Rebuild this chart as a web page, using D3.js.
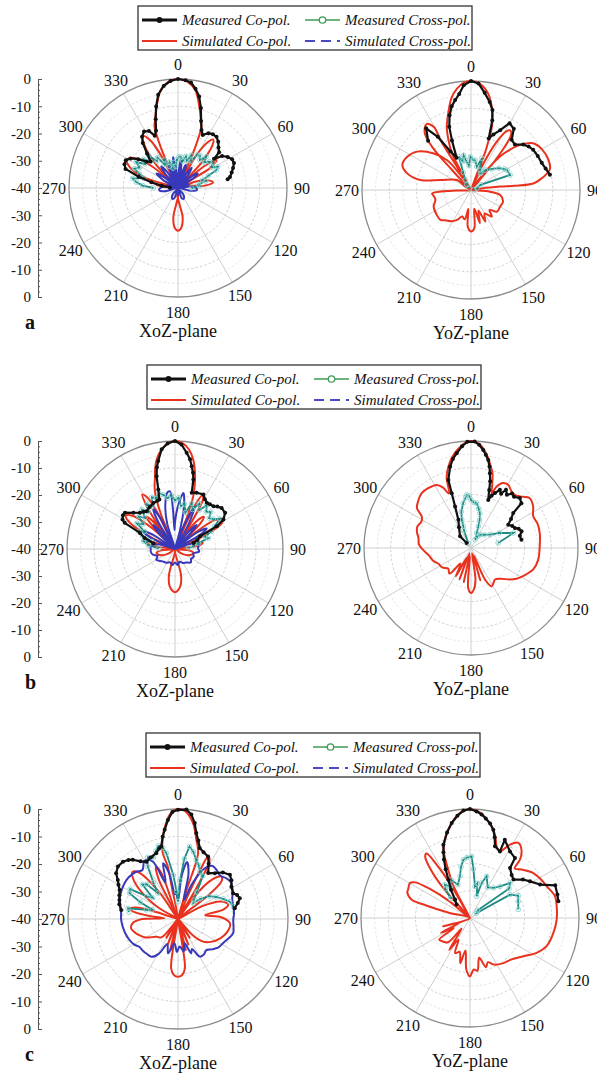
<!DOCTYPE html>
<html>
<head>
<meta charset="utf-8">
<script src="https://cdn.jsdelivr.net/npm/d3@7"></script>
<style>
  html, body { margin: 0; padding: 0; background: #fff; }
  svg { display: block; }
  text { font-family: "Liberation Serif", "Times New Roman", serif; fill: #111; }
</style>
</head>
<body>
<svg id="chart" width="597" height="1077"></svg>
<script>
// ---------- tick labels ----------
const angleTicks = [0, 30, 60, 90, 120, 150, 180, 210, 240, 270, 300, 330];
const ringLevels = [-35, -30, -25, -20, -15, -10, -5];
const axisMajor = [0, 10, 20, 30, 40, 50, 60, 70, 80];   // position along the two-sided radial axis
const axisLabels = ["0", "-10", "-20", "-30", "-40", "-30", "-20", "-10", "0"];
const seriesNames = ["Measured Co-pol.", "Measured Cross-pol.", "Simulated Co-pol.", "Simulated Cross-pol."];

// ---------- (a) XoZ-plane : [angle in degrees, level in dB] ----------
const aXoZ_simCo = [[0,0],[5,-0.8],[10,-3.5],[15,-9.5],[19,-14],[21,-16],[23,-24],[25,-40],
  [29,-27],[33,-20],[36,-18],[39,-20],[43,-28],[46,-40],
  [50,-28],[54,-22.5],[58,-26],[62,-40],
  [70,-33],[77,-28],[81,-27],[85,-30],[89,-40],
  [171,-29],[175,-25.5],[180,-24.3],[185,-25.5],[189,-29],[192,-40],
  [274,-35],[278,-32],[282,-40],
  [287,-28],[293,-21],[299,-18.6],[305,-21],[310,-28],[313,-40],
  [317,-28],[322,-20],[326,-17],[330,-20],[333,-28],[335,-40],
  [337,-24],[339,-16],[341,-14],[345,-9.5],[350,-3.5],[355,-0.8]];
const aXoZ_simX = [[3,-33],[6,-29.5],[9,-33],[12,-40],[16,-33],[19,-31],[22,-34],[26,-40],
  [30,-34],[34,-31],[38,-34],[42,-40],[48,-34],[54,-31],[58,-34],[62,-40],[70,-36],[76,-40],
  [84,-35],[90,-33.3],[96,-33],[102,-35],[108,-40],[140,-37],[152,-35.5],[160,-36],[168,-40],
  [180,-37.5],[192,-40],[200,-36],[208,-35.5],[220,-37],[250,-40],[256,-35],[264,-33],[270,-33.5],
  [276,-35],[282,-40],[286,-36],[290,-40],[298,-34],[304,-30.5],[308,-34],[312,-40],[318,-33],
  [322,-30],[326,-33],[330,-40],[335,-34],[338,-31],[342,-34],[345,-40],[348,-33],[351,-28.5],
  [354,-33],[357,-40]];
const aXoZ_measCo = [[-86,-37],[-82,-34],[-78,-30],[-74,-25],[-70,-19.5],[-66,-18.5],[-62,-18.3],
  [-58,-19.5],[-54,-22],[-50,-25],[-46,-26],[-42,-23],[-38,-19],[-35,-17],[-31,-15.8],[-27,-16.5],
  [-24,-19],[-21,-17.5],[-18,-13.5],[-15,-9],[-12,-5],[-8,-2.2],[-4,-0.6],[0,0],[4,-0.4],[7,-1],
  [10,-3],[13,-5.5],[16,-9.5],[19,-14],[22,-17],[25,-18.5],[29,-17],[33,-16.5],[37,-16.5],
  [41,-17.5],[45,-19],[49,-20],[51,-23],[54,-20],[58,-18.5],[62,-17.5],[66,-17.5],[70,-18.5],
  [74,-19.5],[78,-20.5],[80,-21.5]];
const aXoZ_measX = [[-90,-31],[-86,-27],[-82,-24.5],[-78,-23],[-74,-27],[-70,-25],[-66,-22.5],
  [-62,-24],[-58,-22],[-54,-25],[-50,-23.5],[-46,-26],[-42,-24],[-38,-27.5],[-34,-26.5],[-30,-30],
  [-26,-28.5],[-22,-31.5],[-18,-30],[-14,-32.5],[-10,-30.5],[-6,-32],[-2,-29.5],[2,-28.5],[6,-28.6],
  [10,-30],[14,-28],[18,-29.5],[22,-27],[26,-29],[30,-26],[34,-25.6],[38,-27],[42,-24.5],[46,-26.5],
  [50,-25],[54,-24],[58,-25.5],[62,-23.4],[65,-24.5],[68,-28],[72,-30.5],[76,-29.5],[80,-32.5],
  [85,-32],[90,-35]];

// ---------- (a) YoZ-plane ----------
const aYoZ_simCo = [[0,0],[5,-1],[10,-4],[13.6,-8],[16,-11.5],[18.3,-15.6],[19.5,-20.6],[20.5,-25],[21.5,-40],
  [25,-30],[28,-20],[31,-15],[33.5,-13.8],[36,-15],[38,-20],[40,-30],[41,-40],
  [38,-31],[42,-22],[48,-15],[53,-11.5],[60,-10],[69,-9.5],[75,-10],[78,-11.6],[81,-14],[84,-17],
  [84.5,-24],[83.5,-29],[81.4,-36],[88,-40],
  [95,-33],[100,-29],[110,-27.5],[120,-27.7],[130,-27.6],[137,-30],[142,-27.6],[150,-30],
  [155.6,-27.3],[160,-32],[165,-27.4],[170,-33],[175,-26],[180,-24.8],[185,-26.5],[188,-33],
  [192,-29],[198.6,-29.7],[205,-27.9],[212,-26.5],[220,-25.5],[225.6,-24.3],[235,-24.5],[246,-25],
  [255,-26.5],[262,-26],[265,-25.7],[268,-33],[280,-40],
  [300,-37.6],[305.5,-33.7],[288,-28.2],[281.2,-21.1],[284.6,-15.8],[290,-13.2],[297.5,-13.6],
  [305.4,-15.7],[314.5,-20.9],[321.3,-26],[325,-33.3],[322,-40],
  [316.5,-30],[318,-18.7],[321,-13],[326,-10.8],[329.5,-13.2],[328.5,-18.5],[329,-30],[331,-40],
  [332.6,-24.9],[336,-19.5],[339,-15.2],[344.4,-9.6],[348,-5.5],[352,-2.5],[356,-0.6]];
const aYoZ_measCo = [[-41,-16],[-36,-12],[-32,-17],[-28,-24],[-24,-27],[-21,-20.5],[-19,-15.5],
  [-16,-11.5],[-13,-8.5],[-10,-6.5],[-7,-4.5],[-4,-1.5],[0,0],[4,-0.8],[8,-4],[12,-7],[15,-9.6],
  [17,-13.3],[19,-20],[22,-18],[26,-15.6],[30,-11.7],[35,-12.6],[39,-16.3],[44,-16.8],[49,-14.6],
  [53,-13.5],[57,-12.8],[63,-12.5],[69,-12.2],[74,-11.5],[79,-10.5]];
const aYoZ_measX = [[-45,-39],[-38,-37.5],[-30,-35.8],[-24,-33],[-20,-27],[-16,-29],[-12,-27],
  [-10,-28.8],[-5,-31],[-1,-27.8],[4,-29],[8,-28.9],[14,-31.2],[19,-27.7],[25,-32],[30,-33],
  [36,-31],[45,-29],[52,-27],[58,-25.5],[61,-24.9],[69,-24.6],[62,-36],[74,-37.7],[85,-39]];

// ---------- (b) XoZ-plane ----------
const bXoZ_simCo = [[0,0],[4,-0.7],[8,-2.8],[12,-6.8],[15.4,-12],[17,-15],[19,-19],[20.5,-26],[22,-40],
  [23.5,-30],[25,-21],[27,-17.5],[29.5,-19],[31.5,-27],[33,-40],
  [36,-30],[40,-25],[42,-24],[45,-27],[48,-40],
  [51,-30],[54,-22],[58,-19],[62,-21],[66,-30],[68,-40],
  [72,-33],[77,-29.5],[82,-31],[86,-40],
  [95,-35],[102,-33],[112,-34],[125,-37],[140,-40],
  [167,-30],[172,-26],[180,-24],[188,-26],[193,-30],[197,-40],
  [235,-37],[248,-34],[258,-33],[265,-35],[274,-40],
  [278,-31],[283,-29.5],[288,-33],[292,-40],
  [296,-30],[300,-21],[304,-18],[308,-20],[312,-28],[314,-40],
  [316,-28],[318,-24],[321,-26],[324,-40],
  [325,-28],[327,-20],[329,-16.5],[331.5,-18],[334,-24],[336,-40],
  [338,-26],[340,-19],[342,-15.5],[344,-13],[346,-9.5],[348.5,-6.1],[352,-3],[356,-0.8]];
const bXoZ_simX = [[0,-30],[4,-24],[8.5,-19],[12,-24],[15,-33],[18,-40],
  [21,-30],[25,-22.7],[29,-30],[33,-40],[38,-32],[42,-28],[46,-34],[50,-40],
  [53,-30],[57,-26],[61,-30],[66,-40],
  [72,-34],[80,-31],[88,-31.5],[96,-31],[104,-33],[112,-32.5],[122,-33],[130,-32.3],[140,-33.5],
  [150,-34],[160,-35],[170,-34],[180,-35],[190,-34],[200,-34.7],[212,-34],[225,-33.5],[240,-32],
  [248,-33],[256,-31.5],[263,-31],[270,-31],[278,-31],[286,-34],[290,-40],
  [295,-30],[299,-26.3],[303,-30],[308,-40],[314,-32],[318,-28],[322,-34],[325,-40],
  [328,-28],[331.6,-23.2],[335,-28],[339,-40],[343,-30],[347,-24],[352,-19],[355,-18.6],
  [357,-25],[358.5,-33]];
const bXoZ_measCo = [[-75,-31.7],[-70,-28],[-65.4,-25.7],[-62.5,-19],[-60.7,-17.7],[-57,-17],
  [-54,-17.1],[-49,-19.6],[-44,-21.3],[-40,-22],[-37,-22.5],[-31,-21.8],[-25.2,-21.2],[-20,-21],
  [-17.6,-20.8],[-15.7,-17.1],[-14.2,-12.2],[-12.5,-9],[-10.8,-6.8],[-7.6,-2.7],[-4,-0.8],[0,0],
  [3.5,-1.2],[6.9,-4.1],[9.5,-6.3],[11.4,-8.7],[13.3,-11],[14.8,-13.4],[16.6,-18.3],[21,-17.7],
  [27.5,-17.2],[31,-18.5],[34.5,-19.2],[38,-19],[42,-18.7],[45,-17.8],[48.7,-17],[54.2,-17.1],
  [58.7,-19],[61.5,-22.4],[63,-29.6],[68,-31],[72,-32.8]];
const bXoZ_measX = [[-88,-34],[-82,-30],[-76,-28],[-72,-31],[-68,-27],[-64,-25],[-60,-27],[-56,-23],
  [-52,-25],[-48,-22],[-44,-24],[-40,-21],[-36,-23],[-32,-20.5],[-28,-22],[-24,-19],[-20,-20],
  [-16,-18.5],[-12,-19.5],[-8,-21],[-4,-20],[0,-22],[4,-21],[8,-24],[12,-23],[16,-26],[20,-22],
  [24,-24],[28,-21],[32,-23],[36,-20],[40,-22],[44,-21],[48,-23],[52,-22],[56,-20],[60,-23],
  [64,-25],[68,-28],[72,-27],[76,-31],[80,-33],[85,-35]];

// ---------- (b) YoZ-plane ----------
const bYoZ_simCo = [[0,0],[4,-0.8],[7,-2.5],[11,-6],[14,-9],[16,-10.9],[18.5,-15],[20.6,-18.1],
  [22.6,-15.2],[26,-13],[30.5,-12.6],[35.7,-14],[40,-14.2],[43.5,-13.4],[49.7,-11.2],[56,-12],
  [63,-13.9],[70,-13.5],[77.7,-13.7],[88.6,-14.3],[100,-14.5],[109,-15.4],[118.4,-17.9],[124,-19.5],
  [129,-21.3],[136,-24],[142.8,-25.2],[147,-24.5],[151.7,-23.7],[156,-27],[160,-37],[164,-27.5],
  [168,-38],[172,-28],[176,-24.5],[180,-23.2],[184,-25],[188,-37],[192,-27],[196,-38],[200,-27.5],
  [204,-36],[208,-28],[214,-33],[220,-27.5],[228,-28.5],[236,-27],[244,-26.5],[252,-25],[260,-24],
  [268,-22],[274,-20.5],[281,-20],[286,-19],[292,-18.4],[298,-19],[302.7,-18.1],[306.4,-14.9],
  [312,-13.5],[318.1,-12.4],[324,-12.5],[331.5,-13.2],[335,-15],[338,-18],[341,-12],[344.5,-8.4],
  [348,-5.5],[352,-3],[356,-1]];
const bYoZ_measCo = [[-41,-37.5],[-43,-34],[-30,-31],[-24,-28.4],[-21,-23.4],[-19.4,-18.3],
  [-18.4,-13.2],[-14.4,-8.6],[-11.5,-6],[-8.6,-4.2],[-5,-1.8],[-2,-0.3],[2,-0.2],[4.5,-1.3],
  [7.1,-3.1],[9,-4.7],[11.1,-6.5],[12.8,-8.8],[14.2,-11.2],[16,-14],[17.4,-17.3],[19.7,-20.9],
  [21.5,-19],[23.6,-17.6],[26.4,-15.7],[29,-16.8],[31,-14.6],[34,-16],[37,-14.5],[40,-15],
  [44.4,-13.9],[48.4,-14.8],[50.4,-19.5],[54,-21.5],[58,-23.6],[62,-22.5],[65.6,-22],[68,-20.8],
  [71.8,-20.1],[76,-21.2],[80.7,-20.9]];
const bYoZ_measX = [[-30,-38],[-22,-33],[-19.5,-31.4],[-18,-28.9],[-15,-26],[-10,-23],[-6,-21],
  [-4.6,-20.1],[-2,-20.5],[0,-22],[4,-23],[7.2,-23.1],[11,-25],[14.4,-26.6],[17,-29],[18.7,-31.4],
  [21,-34],[25.6,-36.5],[30,-35],[34,-34],[45,-33],[55,-31.3],[62,-28],[70.5,-23.2],[79.6,-29.7]];

// ---------- (c) XoZ-plane ----------
const cXoZ_simCo = [[0,0],[4,-0.8],[8.9,-4.7],[11,-7.5],[13,-10.4],[15,-12.5],[17,-15],[17.7,-20],
  [16.5,-28],[20,-40],
  [23,-30],[24.5,-20],[25.7,-14.8],[28,-15.5],[29.5,-19],[31,-28],[32,-40],
  [36,-30],[40,-22],[44,-18.5],[46,-17.9],[49,-19],[52,-26],[55,-40],
  [62,-30],[68,-23],[74,-21],[78,-23],[82,-30],[88,-24],[95,-21],[105,-21.5],[115,-23.2],
  [125,-25.5],[132,-27.7],[138,-32],[142,-40],
  [148,-32],[152,-40],[158,-30],[162,-40],[166,-28.4],[169,-40],[172,-22],[176,-19.5],[180,-19],
  [184,-19.5],[188,-22],[191,-40],[194,-28.4],[198,-40],[202,-30],[208,-40],[212,-32],[218,-40],
  [222,-31],[231,-29.8],[240,-26.5],[247,-24.8],[253,-23.5],[259,-22.6],[265,-23.5],[270,-27],
  [273,-35],[276,-30],[279,-24],[282,-22],[285,-24],[288,-32],[291,-40],
  [300,-32],[306,-24],[312,-18],[316,-16.2],[320,-18],[325,-28],[328,-40],
  [334,-24],[337,-19.5],[340,-22],[343,-40],
  [349,-28],[349,-20.5],[347,-15.4],[349,-10.6],[352,-6],[356,-1.5]];
const cXoZ_simX = [[0,-33],[5,-24],[9,-19],[13,-23],[17,-33],[22,-26],[28,-19],[33,-17],[38,-17.3],
  [44,-18],[50,-17],[55,-16.6],[62,-17.5],[70,-19],[77,-19.4],[84,-19.5],[91,-19.9],[98,-19.6],
  [104.6,-19.3],[112,-20.5],[118,-21.4],[125,-22],[132,-23.5],[137.6,-24.7],[144,-24],[150,-24.2],
  [155,-28],[159,-26.6],[165,-31],[170,-28],[176.5,-30],[182,-28],[188,-31],[196,-27],[203,-30],
  [209,-25.5],[215,-23.2],[222,-23],[228,-22.8],[234,-22.7],[240,-21.5],[246.5,-20.8],[254,-20.2],
  [262,-19.7],[270,-19.3],[276,-19.2],[283,-18.5],[290,-17.5],[297,-17],[304,-16.6],[310,-16.5],
  [318,-17],[324,-18],[330,-15.6],[336,-17],[341,-26],[345,-19],[349,-23],[353,-31],[356,-30]];
const cXoZ_measCo = [[-81,-19.1],[-76,-18],[-72,-17.6],[-68,-17],[-63.6,-16.3],[-60,-15],[-57,-13.9],
  [-53.5,-12],[-48.9,-11],[-43.8,-11.1],[-40,-12],[-37.3,-12.9],[-33,-15],[-28.9,-16.2],[-24,-15.5],
  [-18.3,-14.8],[-15,-13.5],[-13,-12.9],[-10.5,-9.5],[-8.5,-7.2],[-5.8,-3.8],[-3,-1],[0,-0.3],
  [4.4,-0.1],[7.3,-1.7],[9.9,-4.6],[12,-8],[14.5,-10.5],[17,-13],[21,-14],[25.7,-14.8],[29,-17],
  [33.3,-20],[38.8,-18.6],[44,-16.5],[49.6,-15.2],[54,-16],[58.8,-17.3],[65,-17.9],[68,-16.8],
  [71.5,-16.3],[75,-17.5],[79.3,-19]];
const cXoZ_measX = [[-82,-22],[-78,-21.4],[-74,-28],[-70,-30],[-66,-25],[-62,-20],[-58,-19.5],
  [-54,-26],[-50,-28],[-46,-22],[-42,-23],[-38,-28],[-34,-24],[-30,-18],[-26,-15],[-22,-16],
  [-18,-14],[-15,-12.5],[-12,-13.5],[-10,-15.7],[-6,-24],[-3,-30],[0,-33.7],[3,-26],[6,-18],
  [9,-13.3],[13,-15],[17,-17.5],[21,-19],[25,-21],[30,-22],[35,-28],[40,-31],[44,-32],[48,-29],
  [54,-25.9],[60,-24],[66,-22],[71.5,-20.2],[77,-19.4]];

// ---------- (c) YoZ-plane ----------
const cYoZ_simCo = [[0,0],[5,-1],[10,-3.5],[14.8,-6.5],[18,-9.5],[20.4,-12],[24.2,-13.2],[28.6,-9.3],
  [32.8,-7.2],[37.8,-9.1],[40.6,-11.9],[42,-15.5],[46.9,-14],[54.6,-11.5],[62,-10.3],[67.6,-9.5],
  [75.7,-7.8],[82.3,-7.9],[91,-8.2],[100,-8.9],[110,-10],[117.7,-12.4],[125.7,-15.9],[135,-18.5],
  [143.5,-19.4],[153,-20.8],[158,-22.5],[162,-21],[167,-25],[172,-20.5],[176,-21],[180,-18.6],
  [184,-21],[188,-28],[192,-23],[197,-27],[203,-26],[208,-31],[213,-26],[218,-35],[222,-28],
  [228,-27],[234.8,-26.2],[238,-33],[243,-28],[247,-36],[252.6,-29.7],[257,-40],
  [284,-32],[286,-23],[287.4,-17.6],[292,-15.2],[294.7,-15],[300.3,-14.5],[303,-16],[306,-22],
  [309,-30],[312,-40],
  [318,-26],[321,-17],[324,-12],[326,-11.5],[328,-17],[330,-26.5],[331,-40],
  [333,-26],[336,-20],[338.2,-14.3],[341,-11],[344.6,-7.7],[349.1,-4.5],[353,-2],[357,-0.5]];
const cYoZ_measCo = [[-45,-33],[-39,-31.3],[-34,-27.5],[-29.5,-23.9],[-26.5,-20],[-24,-16.5],
  [-22,-14],[-20,-11.4],[-15,-7.5],[-10.9,-4.5],[-7,-2.2],[-3.5,-0.5],[0,0],[3.5,-0.8],[6.4,-1.8],
  [9,-3],[12,-4.5],[14.8,-6.5],[17,-9],[19.2,-12.1],[24.2,-13.2],[24,-8.6],[31,-11.5],[36.9,-12.5],
  [38.7,-16.5],[44,-18],[48.5,-18.7],[54,-16],[58.6,-14.2],[64.5,-11.5],[69,-6.5],[75,-6.8],
  [79.3,-7]];
const cYoZ_measX = [[-45,-30],[-40,-26],[-37,-24.7],[-32,-26.5],[-26,-24.5],[-20,-27],[-13.5,-24.2],
  [-10,-21],[-6.5,-18.5],[-3,-17.8],[1.5,-17.4],[4,-22],[9,-28.3],[12,-27],[17,-31.7],[18.4,-26.4],
  [21.8,-23.5],[30,-27],[38,-26],[43.5,-24],[48.8,-20.5],[53,-22],[45,-36],[53,-37],[59.7,-23],
  [65,-20.5],[71,-21.3],[80,-22]];

// ---------- layout ----------
const COLORS = { measCo: "#111111", simCo: "#e8321e", measX: "#1e8a84", measXMark: "#88d0cc",
                 simX: "#3838bb", legendGreen: "#3d9b55", legendBlue: "#4a4ac4" };
const rows = [
  { letter: "a", legend: { x: 138, y: 6 },
    left:  { cx: 178, cy: 188, R: 109, simCo: aXoZ_simCo, simX: aXoZ_simX, measCo: aXoZ_measCo, measX: aXoZ_measX },
    right: { cx: 471, cy: 190, R: 109, simCo: aYoZ_simCo, simX: null, measCo: aYoZ_measCo, measX: aYoZ_measX } },
  { letter: "b", legend: { x: 147, y: 365 },
    left:  { cx: 175, cy: 549, R: 108, simCo: bXoZ_simCo, simX: bXoZ_simX, measCo: bXoZ_measCo, measX: bXoZ_measX },
    right: { cx: 471, cy: 548, R: 107, simCo: bYoZ_simCo, simX: null, measCo: bYoZ_measCo, measX: bYoZ_measX } },
  { letter: "c", legend: { x: 146, y: 733 },
    left:  { cx: 178, cy: 919, R: 110, simCo: cXoZ_simCo, simX: cXoZ_simX, measCo: cXoZ_measCo, measX: cXoZ_measX },
    right: { cx: 470, cy: 918, R: 109, simCo: cYoZ_simCo, simX: null, measCo: cYoZ_measCo, measX: cYoZ_measX } }
];

const svg = d3.select("#chart");
const rad = d => d * Math.PI / 180;

function drawPolar(g, p, planeName) {
  const r = d3.scaleLinear().domain([-40, 0]).range([0, p.R]).clamp(true);
  const plot = g.append("g").attr("transform", `translate(${p.cx},${p.cy})`);

  // rings (dashed) and spokes
  plot.selectAll("circle.ring").data(ringLevels).join("circle")
    .attr("r", d => r(d)).attr("fill", "none")
    .attr("stroke", d => d % 10 === 0 ? "#c4c4c4" : "#dedede")
    .attr("stroke-width", 0.8).attr("stroke-dasharray", "2.5,2");
  plot.selectAll("line.spoke").data(angleTicks).join("line")
    .attr("x1", 0).attr("y1", 0)
    .attr("x2", d => r(0) * Math.sin(rad(d))).attr("y2", d => -r(0) * Math.cos(rad(d)))
    .attr("stroke", "#c8c8c8").attr("stroke-width", 0.9);
  plot.append("circle").attr("r", r(0)).attr("fill", "none")
    .attr("stroke", "#8c8c8c").attr("stroke-width", 1.3);

  // angle labels
  plot.selectAll("text.ang").data(angleTicks).join("text")
    .attr("x", d => (p.R + 15) * Math.sin(rad(d)))
    .attr("y", d => -(p.R + 15) * Math.cos(rad(d)))
    .attr("text-anchor", "middle").attr("dominant-baseline", "central")
    .attr("font-size", 16).text(d => d);

  const closed = d3.lineRadial().angle(d => rad(d[0])).radius(d => r(d[1]))
    .curve(d3.curveCatmullRomClosed.alpha(0.5));
  const open = d3.lineRadial().angle(d => rad(d[0])).radius(d => r(d[1]));

  if (p.simCo) plot.append("path").attr("d", closed(p.simCo)).attr("fill", "none")
    .attr("stroke", COLORS.simCo).attr("stroke-width", 2).attr("stroke-linejoin", "round");
  if (p.simX) plot.append("path").attr("d", closed(p.simX)).attr("fill", "none")
    .attr("stroke", COLORS.simX).attr("stroke-width", 2).attr("stroke-linejoin", "round");
  if (p.measX) {
    plot.append("path").attr("d", open(p.measX)).attr("fill", "none")
      .attr("stroke", COLORS.measX).attr("stroke-width", 1.8);
    plot.selectAll("circle.mx").data(p.measX).join("circle")
      .attr("cx", d => r(d[1]) * Math.sin(rad(d[0])))
      .attr("cy", d => -r(d[1]) * Math.cos(rad(d[0])))
      .attr("r", 2.3).attr("fill", "none").attr("stroke", COLORS.measXMark).attr("stroke-width", 0.9);
  }
  if (p.measCo) {
    plot.append("path").attr("d", open(p.measCo)).attr("fill", "none")
      .attr("stroke", COLORS.measCo).attr("stroke-width", 2.2).attr("stroke-linejoin", "round");
    plot.selectAll("circle.mc").data(p.measCo).join("circle")
      .attr("cx", d => r(d[1]) * Math.sin(rad(d[0])))
      .attr("cy", d => -r(d[1]) * Math.cos(rad(d[0])))
      .attr("r", 2).attr("fill", COLORS.measCo);
  }

  g.append("text").attr("x", p.cx).attr("y", p.cy + p.R + 40)
    .attr("text-anchor", "middle").attr("font-size", 18).text(planeName);
}

function drawRadialAxis(g, p) {
  const y = d3.scaleLinear().domain([0, 80]).range([p.cy - p.R, p.cy + p.R]);
  const ax = g.append("g").attr("transform", "translate(38,0)");
  ax.call(d3.axisLeft(y).tickValues(d3.range(0, 81, 2).filter(v => v % 10 !== 0))
      .tickFormat("").tickSize(-2).tickSizeOuter(0));
  ax.append("g").call(d3.axisLeft(y).tickValues(axisMajor)
      .tickFormat((d, i) => axisLabels[i]).tickSize(-4).tickSizeOuter(-4).tickPadding(7));
  ax.selectAll("path.domain").attr("stroke", "#555").attr("stroke-width", 1);
  ax.selectAll(".tick line").attr("stroke", "#555");
  ax.selectAll(".tick text").attr("font-family", "'Liberation Serif', serif")
    .attr("font-size", 15).attr("fill", "#111");
}

function drawLegend(g, L) {
  const w = 334, h = 44;
  const lg = g.append("g").attr("transform", `translate(${L.x},${L.y})`);
  lg.append("rect").attr("width", w).attr("height", h).attr("fill", "#fff")
    .attr("stroke", "#333").attr("stroke-width", 1.3);
  const rowsY = [14, 35];
  const items = [
    { col: 0, row: 0, name: seriesNames[0], kind: "measCo" },
    { col: 1, row: 0, name: seriesNames[1], kind: "measX" },
    { col: 0, row: 1, name: seriesNames[2], kind: "simCo" },
    { col: 1, row: 1, name: seriesNames[3], kind: "simX" }
  ];
  const colX = [4, 167];
  items.forEach(it => {
    const x0 = colX[it.col], yy = rowsY[it.row];
    const ln = lg.append("line").attr("x1", x0).attr("x2", x0 + 35).attr("y1", yy).attr("y2", yy);
    if (it.kind === "measCo") {
      ln.attr("stroke", COLORS.measCo).attr("stroke-width", 3);
      lg.append("circle").attr("cx", x0 + 17.5).attr("cy", yy).attr("r", 3).attr("fill", COLORS.measCo);
    } else if (it.kind === "measX") {
      ln.attr("stroke", COLORS.legendGreen).attr("stroke-width", 1.5);
      lg.append("circle").attr("cx", x0 + 17.5).attr("cy", yy).attr("r", 3.2)
        .attr("fill", "#fff").attr("stroke", COLORS.legendGreen).attr("stroke-width", 1.3);
    } else if (it.kind === "simCo") {
      ln.attr("stroke", COLORS.simCo).attr("stroke-width", 1.8);
    } else {
      ln.attr("stroke", COLORS.legendBlue).attr("stroke-width", 1.8).attr("stroke-dasharray", "10,6");
    }
    lg.append("text").attr("x", x0 + 40).attr("y", yy + 5).attr("font-size", 15)
      .attr("font-style", "italic").text(it.name);
  });
}

rows.forEach(row => {
  const g = svg.append("g");
  drawRadialAxis(g, row.left);
  drawPolar(g, row.left, "XoZ-plane");
  drawPolar(g, row.right, "YoZ-plane");
  drawLegend(g, row.legend);
  g.append("text").attr("x", 25).attr("y", row.left.cy + row.left.R + 32)
    .attr("font-family", "'Liberation Sans', Arial, sans-serif").attr("font-weight", "bold")
    .attr("font-size", 20).text(row.letter);
});
</script>
</body>
</html>
